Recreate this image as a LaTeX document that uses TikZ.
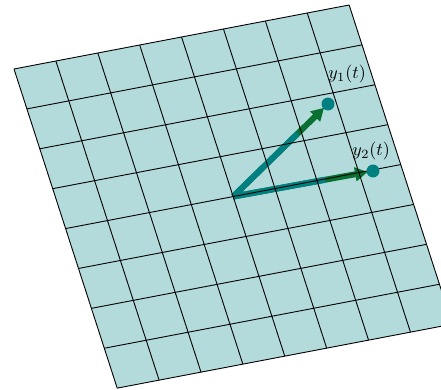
\documentclass[tikz,border=0pt]{standalone}
\usetikzlibrary{calc,arrows.meta}
\definecolor{sheet}{RGB}{179,219,219}
\definecolor{vecgreen}{RGB}{8,112,48}
\begin{document}
\begin{tikzpicture}[x=0.555pt, y=-0.555pt,
  gridline/.style={black, line width=0.5pt},
  sheetframe/.style={shift={(14,69)}, x={(23.25pt,4.44pt)}, y={(7.16pt,-22.14pt)}},
  posvec/.style={teal, line width=3.3pt},
  velvec/.style={vecgreen, line width=3.3pt, -{Triangle[length=7pt,width=7.5pt]}, shorten >=3pt},
  dot/.style={circle, fill=teal, inner sep=0pt, minimum size=7.2pt}]
  \useasboundingbox (0,0) rectangle (441,390);
  \clip (0,0) rectangle (441,390);

  % Flaeche
  \begin{scope}[sheetframe]
    \fill[sheet] (0,0) -- (8,0) -- (8,8) -- (0,8) -- cycle;
    \coordinate (c) at (4,4);
  \end{scope}
  \coordinate (p1) at (328,104);
  \coordinate (p2) at (373,171);

  % Vektoren
  \draw[velvec] (c) -- (p1);
  \draw[velvec] (c) -- (p2);
  \draw[posvec] (c) -- ($(c)!0.68!(p1)$);
  \draw[posvec] (c) -- ($(c)!0.66!(p2)$);

  % Gitterlinien
  \begin{scope}[sheetframe]
    \foreach \k in {0,...,8} {
      \draw[gridline] (\k,0) -- (\k,8);
      \draw[gridline] (0,\k) -- (8,\k);
    }
  \end{scope}

  % Punkte
  \node[dot] (y1) at (p1) {};
  \node[dot] (y2) at (p2) {};
  \node[anchor=base west, inner sep=0pt] (l1) at ([yshift=14pt]y1.center) {$y_1(t)$};
  \node[anchor=base, inner sep=0pt] (l2) at ([xshift=-1pt, yshift=8.6pt]y2.center) {$y_2(t)$};
\end{tikzpicture}
\end{document}
